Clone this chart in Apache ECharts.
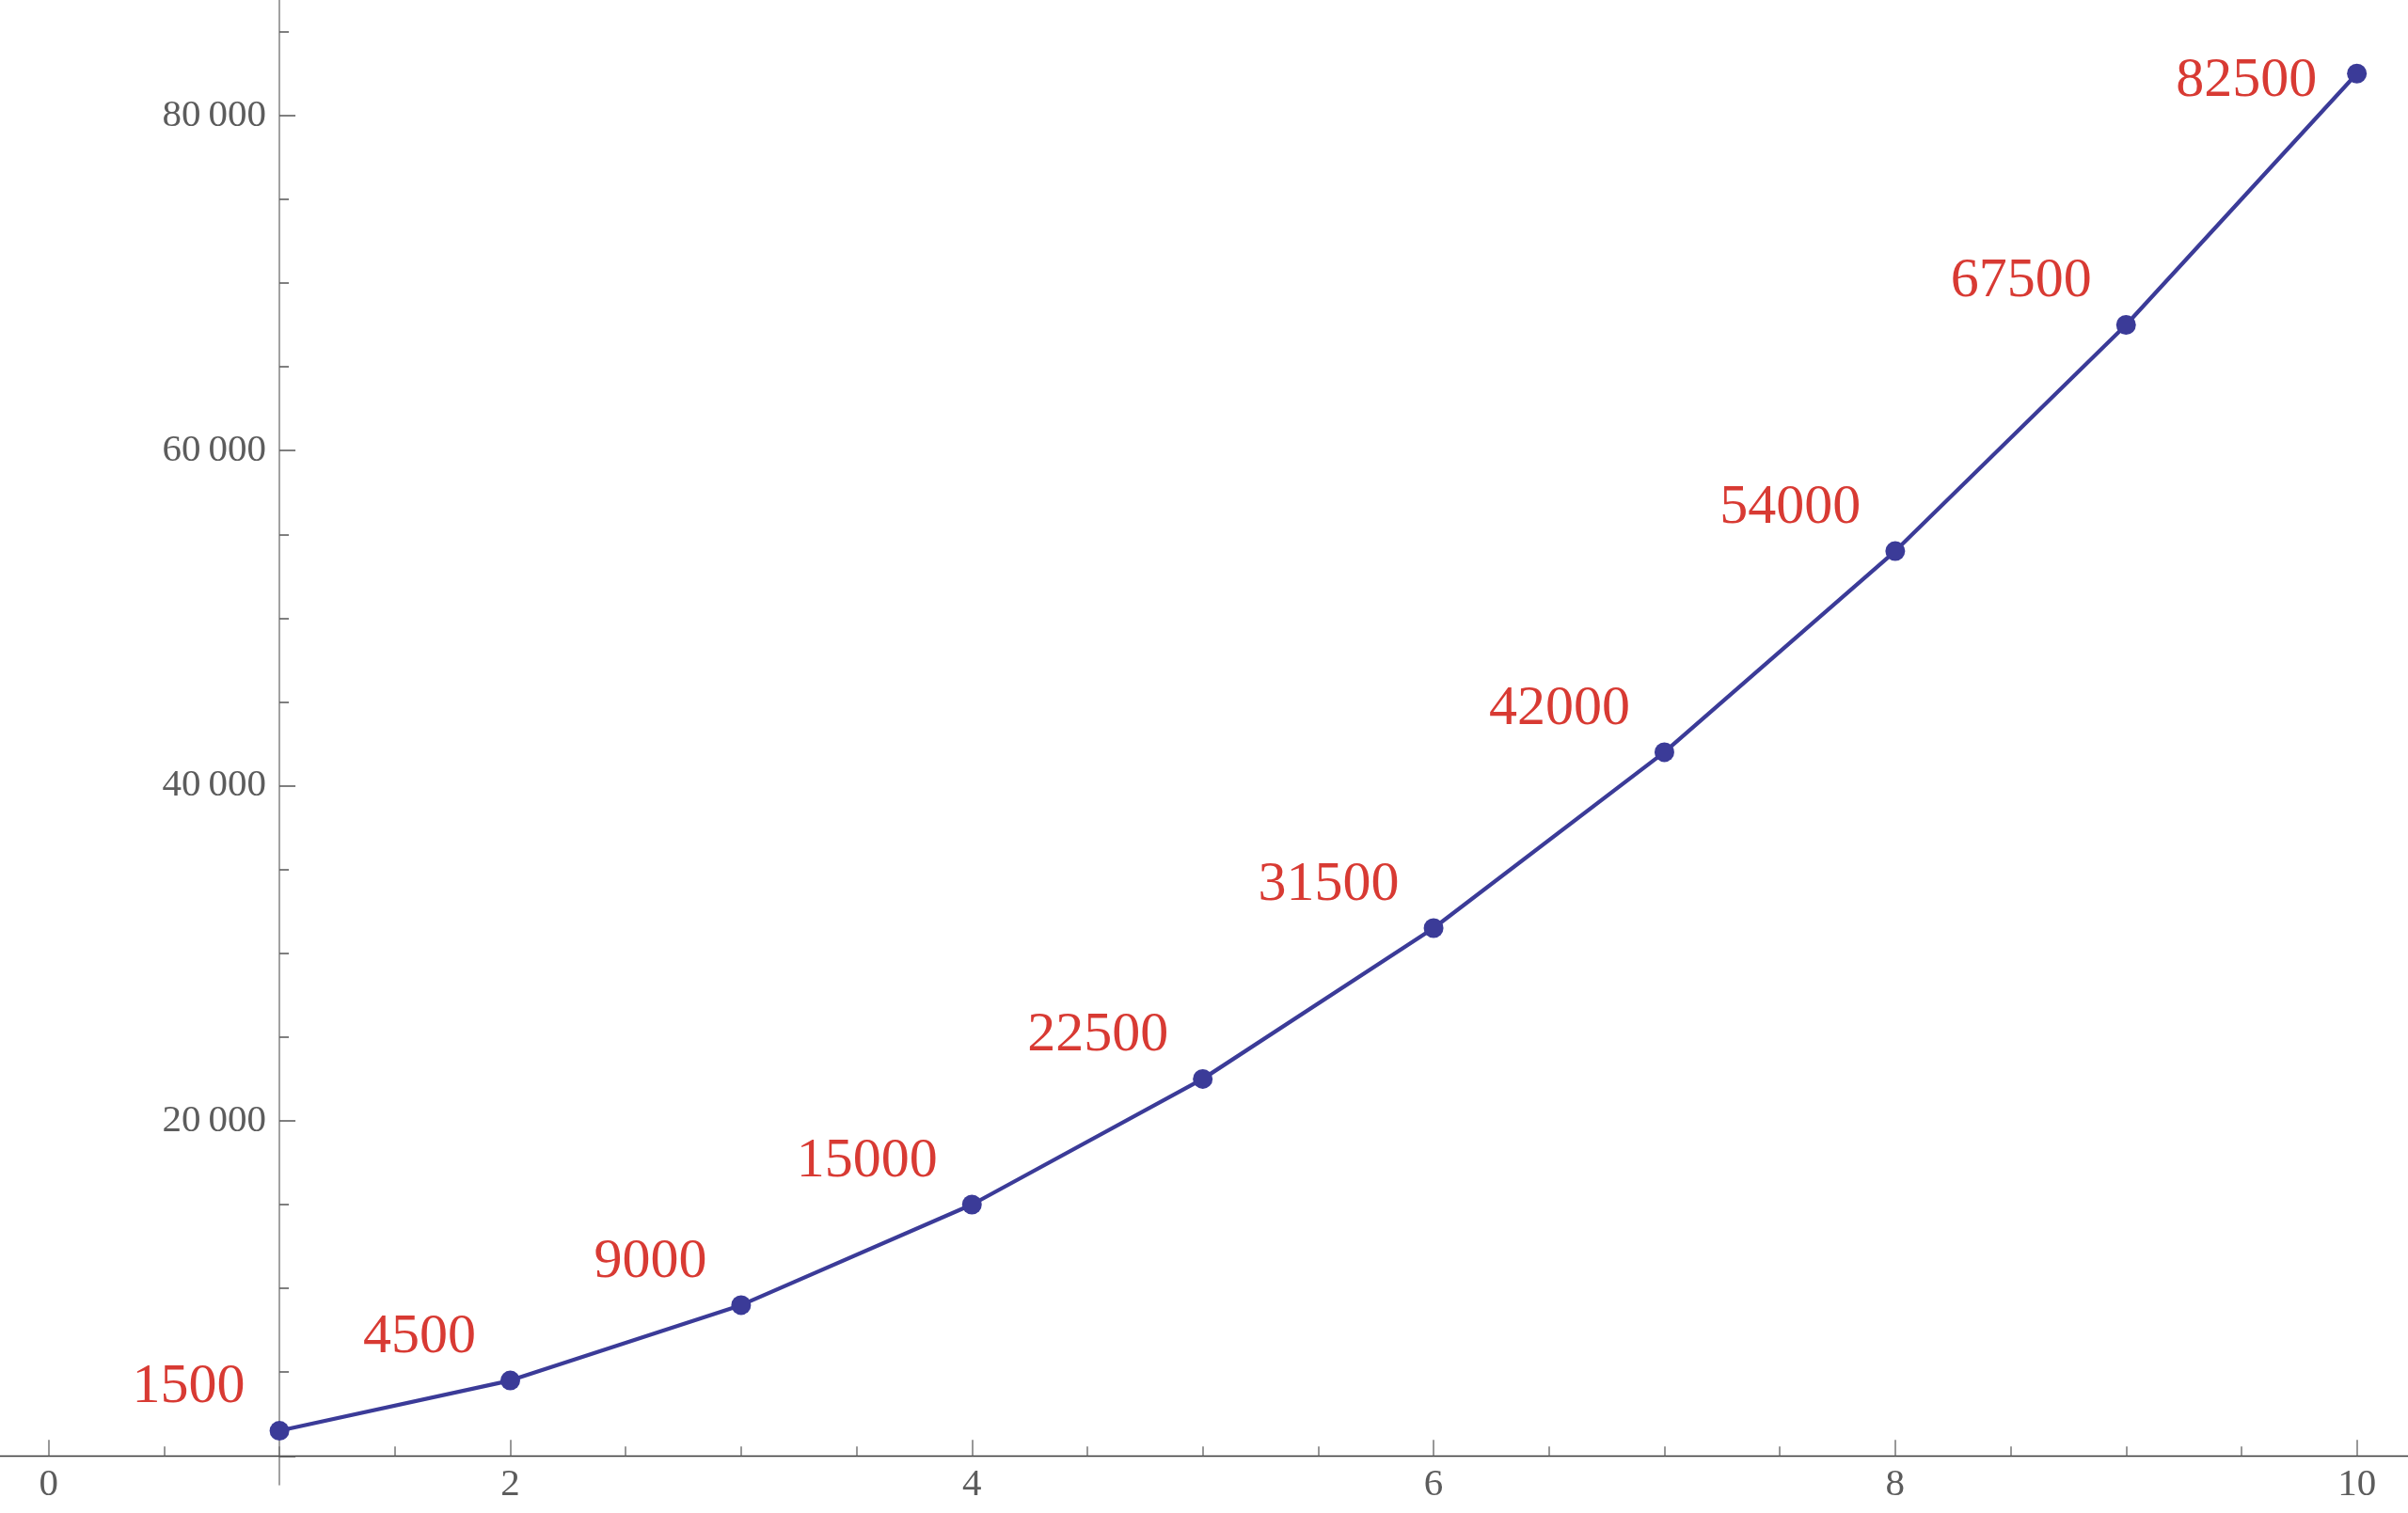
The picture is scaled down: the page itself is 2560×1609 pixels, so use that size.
<!DOCTYPE html>
<html><head><meta charset="utf-8">
<script src="https://cdn.jsdelivr.net/npm/echarts@6/dist/echarts.min.js"></script>
<style>html,body{margin:0;padding:0;background:#fff}#c{width:2560px;height:1609px}</style>
</head><body><div id="c"></div>
<script>
// ---- data ----
const xValues = [1, 2, 3, 4, 5, 6, 7, 8, 9, 10];
const yValues = [1500, 4500, 9000, 15000, 22500, 31500, 42000, 54000, 67500, 82500];
const xMajorTicks = [0, 2, 4, 6, 8, 10];
const xMinorTicks = [0.5, 1, 1.5, 2.5, 3, 3.5, 4.5, 5, 5.5, 6.5, 7, 7.5, 8.5, 9, 9.5];
const yMajorTicks = [0, 20000, 40000, 60000, 80000];
const yLabelTicks = [20000, 40000, 60000, 80000];
const yMinorTicks = [5000, 10000, 15000, 25000, 30000, 35000, 45000, 50000, 55000, 65000, 70000, 75000, 85000];

// ---- layout ----
const W = 2560, H = 1609;
const X_MIN = -0.2107, X_MAX = 10.2215;
const Y_MAX = 86891;
const AXIS_BOTTOM_PX = 60.7;   // distance of y=0 from canvas bottom
const YAXIS_EXTRA_PX = 30.7;   // y-axis extends below x-axis
const Y_PER_PX = Y_MAX / (H - AXIS_BOTTOM_PX);
const yAxisLeft = (1 - X_MIN) / (X_MAX - X_MIN) * W;

const font = 'Liberation Serif';
const tickLabelColor = '#5c5c5c';
const lineColor = '#3b3b98';
const labelColor = '#d83a33';

const maxIdx = yValues.indexOf(Math.max(...yValues));
const seriesData = xValues.map((x, i) => {
  const item = { value: [x, yValues[i]] };
  if (i === maxIdx) item.label = { offset: [-6, 8] };
  return item;
});

const fmtThin = v => String(v).replace(/\B(?=(\d{3})+(?!\d))/g, '\u2009');

const chart = echarts.init(document.getElementById('c'), null, { renderer: 'canvas' });
chart.setOption({
  animation: false,
  backgroundColor: '#ffffff',
  grid: [
    { left: 0, right: 0, top: 0, bottom: AXIS_BOTTOM_PX, containLabel: false },
    { left: yAxisLeft, right: 0, top: 0, bottom: AXIS_BOTTOM_PX - YAXIS_EXTRA_PX, containLabel: false }
  ],
  xAxis: [
    {
      gridIndex: 0, type: 'value', min: X_MIN, max: X_MAX, position: 'bottom',
      splitLine: { show: false },
      axisLine: { show: true, onZero: false, lineStyle: { color: '#3a3a3a', width: 1.4 } },
      axisTick: { show: true, inside: true, length: 17, customValues: xMajorTicks, lineStyle: { color: '#777', width: 1.5 } },
      axisLabel: { show: true, customValues: xMajorTicks, margin: 10, fontFamily: font, fontSize: 41, color: tickLabelColor }
    },
    {
      gridIndex: 0, type: 'value', min: X_MIN, max: X_MAX, position: 'bottom',
      splitLine: { show: false },
      axisLine: { show: false, onZero: false },
      axisTick: { show: true, inside: true, length: 10, customValues: xMinorTicks, lineStyle: { color: '#777', width: 1.5 } },
      axisLabel: { show: false }
    },
    { gridIndex: 1, type: 'value', show: false, min: 0, max: 1 }
  ],
  yAxis: [
    { gridIndex: 0, type: 'value', show: false, min: 0, max: Y_MAX },
    {
      gridIndex: 1, type: 'value', position: 'left',
      min: -YAXIS_EXTRA_PX * Y_PER_PX, max: Y_MAX,
      splitLine: { show: false },
      axisLine: { show: true, onZero: false, lineStyle: { color: '#8a8a8a', width: 1.6 } },
      axisTick: { show: true, inside: true, length: 17, customValues: yMajorTicks, lineStyle: { color: '#555', width: 1.5 } },
      axisLabel: { show: true, customValues: yLabelTicks, margin: 14, formatter: fmtThin, fontFamily: font, fontSize: 41, color: tickLabelColor }
    },
    {
      gridIndex: 1, type: 'value', position: 'left',
      min: -YAXIS_EXTRA_PX * Y_PER_PX, max: Y_MAX,
      splitLine: { show: false },
      axisLine: { show: false, onZero: false },
      axisTick: { show: true, inside: true, length: 10, customValues: yMinorTicks, lineStyle: { color: '#555', width: 1.5 } },
      axisLabel: { show: false }
    }
  ],
  series: [{
    type: 'line',
    xAxisIndex: 0, yAxisIndex: 0,
    data: seriesData,
    symbol: 'circle', symbolSize: 21,
    z: 5,
    itemStyle: { color: lineColor },
    lineStyle: { color: lineColor, width: 4.2 },
    label: {
      show: true, position: 'left', distance: 26, offset: [0, -46],
      formatter: p => String(p.value[1]),
      fontFamily: font, fontSize: 60, color: labelColor
    },
    emphasis: { disabled: true }
  }]
});
</script>
</body></html>
